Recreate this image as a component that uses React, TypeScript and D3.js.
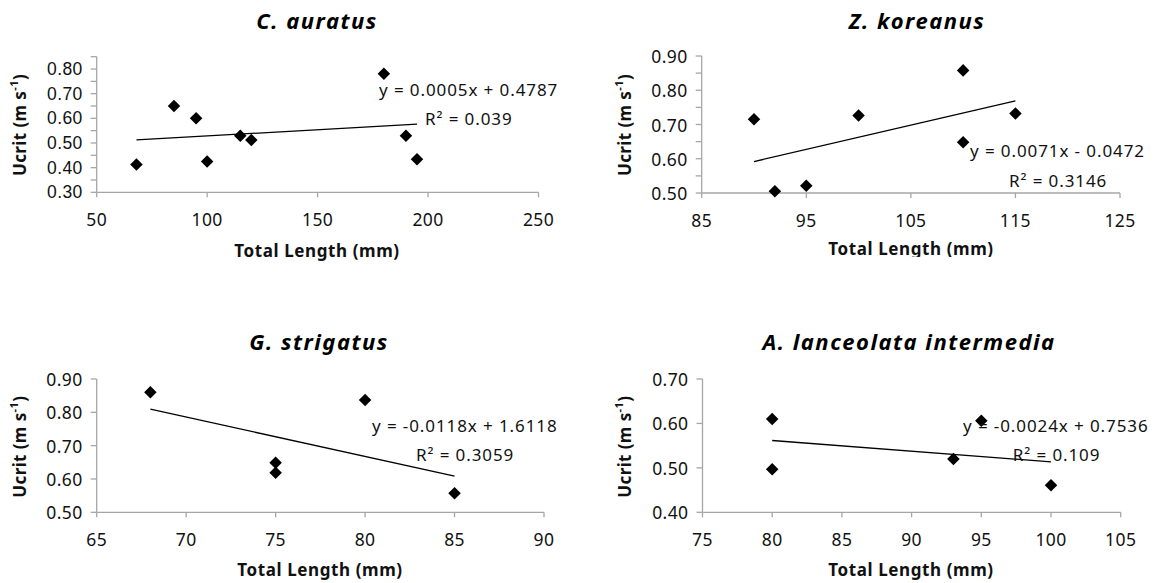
import React from "react";
import * as d3 from "d3";

// ---------- DATA ----------
// C. auratus
const caLength = [68, 85, 95, 100, 115, 120, 180, 190, 195];
const caUcrit = [0.413, 0.65, 0.6, 0.425, 0.529, 0.512, 0.781, 0.529, 0.434];
const caXTicks = [50, 100, 150, 200, 250];
const caYTicks = [0.3, 0.4, 0.5, 0.6, 0.7, 0.8];
const caFit = [0.0005, 0.4787, 0.039];

// Z. koreanus
const zkLength = [90, 92, 95, 100, 110, 110, 115];
const zkUcrit = [0.715, 0.505, 0.521, 0.726, 0.858, 0.648, 0.732];
const zkXTicks = [85, 95, 105, 115, 125];
const zkYTicks = [0.5, 0.6, 0.7, 0.8, 0.9];
const zkFit = [0.0071, -0.0472, 0.3146];

// G. strigatus
const gsLength = [68, 75, 75, 80, 85];
const gsUcrit = [0.86, 0.649, 0.619, 0.837, 0.557];
const gsXTicks = [65, 70, 75, 80, 85, 90];
const gsYTicks = [0.5, 0.6, 0.7, 0.8, 0.9];
const gsFit = [-0.0118, 1.6118, 0.3059];

// A. lanceolata intermedia
const alLength = [80, 80, 93, 95, 100];
const alUcrit = [0.61, 0.497, 0.52, 0.606, 0.461];
const alXTicks = [75, 80, 85, 90, 95, 100, 105];
const alYTicks = [0.4, 0.5, 0.6, 0.7];
const alFit = [-0.0024, 0.7536, 0.109];

const titles = ["C. auratus", "Z. koreanus", "G. strigatus", "A. lanceolata intermedia"];

// ---------- LAYOUT ----------
type Panel = {
  title: string;
  xs: number[];
  ys: number[];
  xTicks: number[];
  yTicks: number[];
  yMax: number;
  minorStep: number | null;
  fit: number[];
  box: [number, number, number, number]; // left, right, top, bottom
  titlePos: [number, number];
  xLabelPos: [number, number];
  yLabelPos: [number, number];
  eqPos: [number, number];
  r2Pos: [number, number];
  yTickFont: string;
  clipBottom?: number;
};

const SANS = "'Noto Sans', 'Open Sans', sans-serif";
const ARIAL = "'Liberation Sans', Arial, sans-serif";

const panels: Panel[] = [
  {
    title: titles[0], xs: caLength, ys: caUcrit, xTicks: caXTicks, yTicks: caYTicks,
    yMax: 0.85, minorStep: 0.05, fit: caFit,
    box: [96.7, 538.5, 56.7, 192.3],
    titlePos: [317, 20], xLabelPos: [317, 250], yLabelPos: [19, 125],
    eqPos: [379, 89], r2Pos: [425, 118], yTickFont: ARIAL,
  },
  {
    title: titles[1], xs: zkLength, ys: zkUcrit, xTicks: zkXTicks, yTicks: zkYTicks,
    yMax: 0.9, minorStep: 0.05, fit: zkFit,
    box: [701.7, 1120, 56, 193],
    titlePos: [917, 20], xLabelPos: [911, 248], yLabelPos: [624, 125],
    eqPos: [970, 150], r2Pos: [1009, 180], yTickFont: SANS, clipBottom: 257,
  },
  {
    title: titles[2], xs: gsLength, ys: gsUcrit, xTicks: gsXTicks, yTicks: gsYTicks,
    yMax: 0.9, minorStep: null, fit: gsFit,
    box: [96.7, 544, 379, 512.3],
    titlePos: [319, 340.7], xLabelPos: [320, 569], yLabelPos: [19, 446.7],
    eqPos: [372, 425], r2Pos: [416, 454], yTickFont: SANS,
  },
  {
    title: titles[3], xs: alLength, ys: alUcrit, xTicks: alXTicks, yTicks: alYTicks,
    yMax: 0.7, minorStep: null, fit: alFit,
    box: [702.5, 1120.7, 379, 512.3],
    titlePos: [909, 340.7], xLabelPos: [911, 569], yLabelPos: [624, 446.7],
    eqPos: [963, 425], r2Pos: [1012.8, 454], yTickFont: SANS,
  },
];

const AXIS = "#a6a6a6";

function fmtEq(fit: number[]) {
  const [m, b] = fit;
  const ms = m.toFixed(4);
  const sign = b < 0 ? "-" : "+";
  return `y = ${ms}x ${sign} ${Math.abs(b).toFixed(4)}`;
}

function ChartPanel({ p, idx }: { p: Panel; idx: number }) {
  const [l, r, t, b] = p.box;
  const xDom = d3.extent(p.xTicks) as [number, number];
  const yMin = d3.min(p.yTicks) as number;
  const x = d3.scaleLinear().domain(xDom).range([l, r]);
  const y = d3.scaleLinear().domain([yMin, p.yMax]).range([b, t]);

  let yTickMarks: number[] = p.yTicks.slice();
  if (p.minorStep) {
    const n = Math.round((p.yMax - yMin) / p.minorStep);
    yTickMarks = d3.range(n + 1).map((i) => yMin + i * p.minorStep!);
  }

  const xFitMin = d3.min(p.xs) as number;
  const xFitMax = d3.max(p.xs) as number;
  const fitLine = d3
    .line<number>()
    .x((v) => x(v))
    .y((v) => y(p.fit[0] * v + p.fit[1]));

  const diamond = d3.symbol().type(d3.symbolDiamond2).size(100);

  const clipId = `clip${idx}`;
  return (
    <g clipPath={p.clipBottom ? `url(#${clipId})` : undefined}>
      {p.clipBottom && (
        <defs>
          <clipPath id={clipId}>
            <rect x={0} y={0} width={1161} height={p.clipBottom} />
          </clipPath>
        </defs>
      )}
      <text
        x={p.titlePos[0]} y={p.titlePos[1]} textAnchor="middle" dominantBaseline="central"
        fontFamily={SANS} fontWeight="bold" fontStyle="italic" fontSize={22} letterSpacing={1.5}
      >
        {p.title}
      </text>
      {/* axes */}
      <line x1={l} x2={l} y1={t} y2={b} stroke={AXIS} strokeWidth={1.3} />
      <line x1={l} x2={r} y1={b} y2={b} stroke={AXIS} strokeWidth={1.3} />
      {yTickMarks.map((v, i) => (
        <line key={"yt" + i} x1={l - 6} x2={l} y1={y(v)} y2={y(v)} stroke={AXIS} strokeWidth={1.3} />
      ))}
      {p.xTicks.map((v, i) => (
        <line key={"xt" + i} x1={x(v)} x2={x(v)} y1={b} y2={b + 5} stroke={AXIS} strokeWidth={1.3} />
      ))}
      {p.yTicks.map((v, i) => (
        <text
          key={"yl" + i} x={l - 14} y={y(v)} textAnchor="end" dominantBaseline="central"
          fontFamily={p.yTickFont} fontSize={17.5} letterSpacing={0.4} fill="#111"
        >
          {v.toFixed(2)}
        </text>
      ))}
      {p.xTicks.map((v, i) => (
        <text
          key={"xl" + i} x={x(v)} y={b + 27} textAnchor="middle" dominantBaseline="central"
          fontFamily={SANS} fontSize={17.5} letterSpacing={0.4} fill="#111"
        >
          {v}
        </text>
      ))}
      {/* trend line */}
      <path d={fitLine([xFitMin, xFitMax]) || ""} stroke="#000" strokeWidth={1.3} fill="none" />
      {/* points */}
      {p.xs.map((v, i) => (
        <path key={"pt" + i} d={diamond() || ""} transform={`translate(${x(v)},${y(p.ys[i])})`} fill="#000" />
      ))}
      {/* equation */}
      <text
        x={p.eqPos[0]} y={p.eqPos[1]} dominantBaseline="central"
        fontFamily={SANS} fontSize={17} letterSpacing={0.9} fill="#111"
      >
        {fmtEq(p.fit)}
      </text>
      <text
        x={p.r2Pos[0]} y={p.r2Pos[1]} dominantBaseline="central"
        fontFamily={SANS} fontSize={17} letterSpacing={0.9} fill="#111"
      >
        {`R² = ${p.fit[2]}`}
      </text>
      {/* axis titles */}
      <text
        x={p.xLabelPos[0]} y={p.xLabelPos[1]} textAnchor="middle" dominantBaseline="central"
        fontFamily={SANS} fontWeight="bold" fontSize={17} letterSpacing={0.6} fill="#111"
      >
        Total Length (mm)
      </text>
      <text
        transform={`translate(${p.yLabelPos[0]},${p.yLabelPos[1]}) rotate(-90)`}
        textAnchor="middle" dominantBaseline="central"
        fontFamily={SANS} fontWeight="bold" fontSize={17} letterSpacing={0.4} fill="#111"
      >
        Ucrit (m s
        <tspan fontSize={11} dy={-6}>-1</tspan>
        <tspan dy={6}>)</tspan>
      </text>
    </g>
  );
}

export default function App() {
  return (
    <svg width={1161} height={583} style={{ display: "block", position: "absolute", left: 0, top: 0, background: "#fff" }}>
      <rect x={0} y={0} width={1161} height={583} fill="#fff" />
      {panels.map((p, i) => (
        <ChartPanel key={i} p={p} idx={i} />
      ))}
    </svg>
  );
}
